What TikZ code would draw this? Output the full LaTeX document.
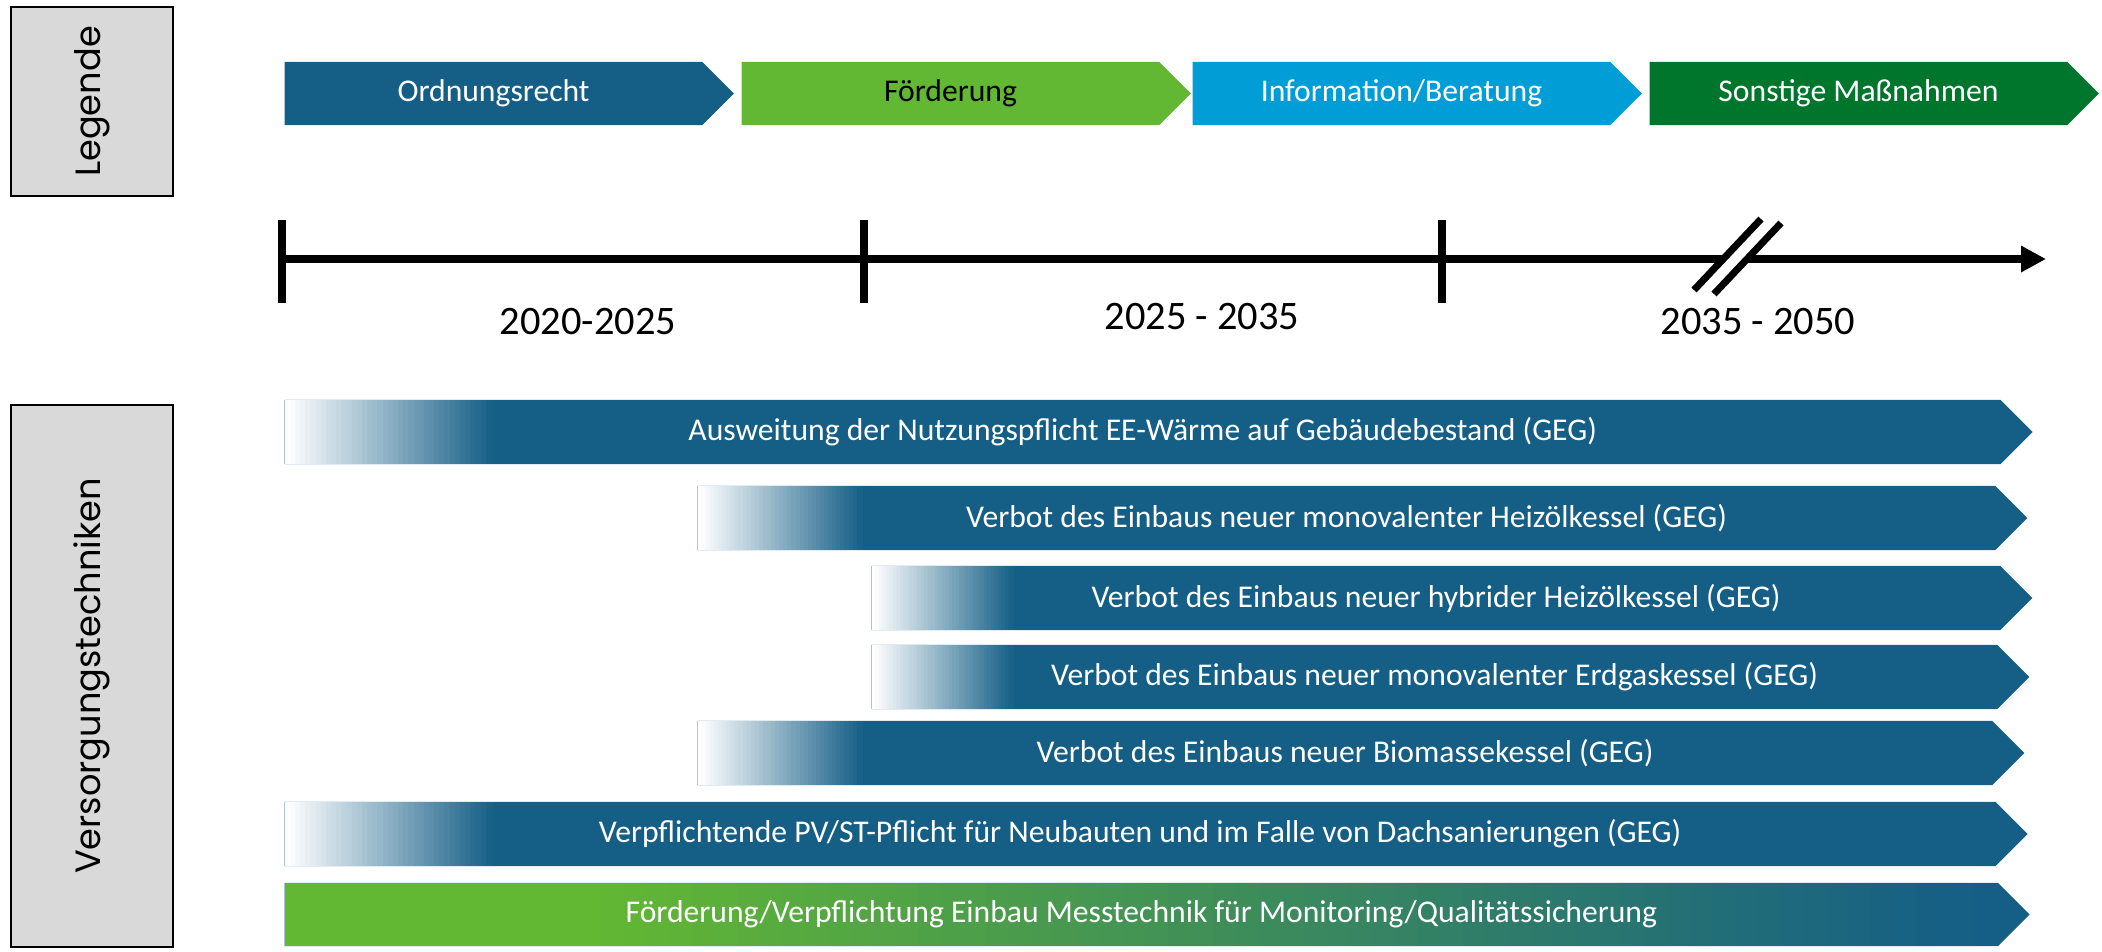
\documentclass[tikz,border=0pt]{standalone}
\usepackage{fontspec}
\setmainfont{Carlito}
\newfontfamily\sidefont{Poppins}
\usepackage{xcolor}
\definecolor{barblue}{HTML}{155E86}
\definecolor{fgreen}{HTML}{62B733}
\definecolor{infocyan}{HTML}{009DD6}
\definecolor{darkgreen}{HTML}{00762C}
\definecolor{boxgray}{HTML}{D9D9D9}
\usetikzlibrary{arrows.meta,positioning,shapes.symbols}

\begin{document}
\begin{tikzpicture}[x=0.01cm, y=-0.01cm,
    every node/.style={font=\fontsize{9}{11}\selectfont},
    legendarrow/.style={signal, signal to=east, signal pointer angle=90, inner sep=0pt, minimum width=4.49cm, minimum height=0.63cm},
    measure/.style={signal, signal to=east, signal pointer angle=90, inner sep=0pt, minimum height=0.64cm, minimum width=#1, fill=barblue, text=white},
    % white fading into the bar, drawn as thin strips (#1 = length in cm)
    fadein/.style={path picture={
        \foreach \i in {0,...,39} {
            \pgfmathsetmacro\p{\i*2.5}
            \fill [barblue!\p!white] ([xshift={\i*#1/40*1cm}]path picture bounding box.north west) rectangle ([xshift={(\i+1.5)*#1/40*1cm}]path picture bounding box.south west);
        }}},
    % green running into blue
    greenblue/.style={path picture={
        \fill [fgreen] (path picture bounding box.north west) rectangle ([xshift=3.2cm]path picture bounding box.south west);
        \foreach \i in {0,...,59} {
            \pgfmathsetmacro\p{(\i+0.5)*100/60}
            \fill [barblue!\p!fgreen] ([xshift={3.16cm+\i*13.6/60*1cm}]path picture bounding box.north west) rectangle ([xshift={3.16cm+(\i+1.5)*13.6/60*1cm}]path picture bounding box.south west);
        }}},
    sidebox/.style={draw=black, line width=0.6pt, fill=boxgray, rotate=90, minimum height=1.62cm, inner sep=0pt, font=\sidefont\fontsize{10}{12}\selectfont},
    period/.style={font=\fontsize{11.5}{13}\selectfont},
    axisline/.style={line width=2.28pt},
    breakline/.style={line width=2pt}]
    \useasboundingbox (0,0) rectangle (2102,951);

    % Side labels
    \node [sidebox, minimum width=1.89cm] (legende) at (92,101.5) {Legende};
    \node [sidebox, minimum width=5.42cm] (versorgung) at (92,676) {Versorgungstechniken};

    % Legend
    \node [legendarrow, fill=barblue, text=white, anchor=west] (ordnung) at (284,93.5) {Ordnungsrecht};
    \node [legendarrow, fill=fgreen, right=0.06cm of ordnung] (foerder) {Förderung};
    \node [legendarrow, fill=infocyan, text=white, right=0cm of foerder] (info) {Information/Beratung};
    \node [legendarrow, fill=darkgreen, text=white, right=0.06cm of info] (sonstige) {Sonstige Maßnahmen};

    % Time axis
    \coordinate (t0) at (282,259);
    \coordinate (t1) at (864,259);
    \coordinate (t2) at (1442,259);
    \coordinate (tend) at (2046,259);
    \coordinate (brk) at (1737,257);
    \draw [axisline, -{Triangle[length=0.25cm,width=0.25cm]}] (t0) -- (tend);
    \foreach \t in {t0,t1,t2}
        \draw [axisline] (\t) ++(0,-39) -- ++(0,83);
    \draw [white, line width=4.8pt] (brk) ++(-33,35) -- ++(67,-71);
    \draw [breakline] (brk) ++(-43,33) -- ++(67,-71);
    \draw [breakline] (brk) ++(-23,37) -- ++(67,-71);

    \node [period] (p1) at (588,322) {2020-2025};
    \node [period] (p2) at (1202,317) {2025 - 2035};
    \node [period] (p3) at (1758,322) {2035 - 2050};

    % Measures
    \node [measure=17.47cm, fadein=2.06, anchor=west] (nutzpflicht) at (284,432) {Ausweitung der Nutzungspflicht EE-Wärme auf Gebäudebestand (GEG)};
    \node [measure=13.29cm, fadein=1.63, anchor=west] (oelmono) at (697,518) {Verbot des Einbaus neuer monovalenter Heizölkessel (GEG)};
    \node [measure=11.60cm, fadein=1.4, anchor=west] (oelhybrid) at (871,598) {Verbot des Einbaus neuer hybrider Heizölkessel (GEG)};
    \node [measure=11.57cm, fadein=1.4, anchor=west] (gasmono) at (871,677) {Verbot des Einbaus neuer monovalenter Erdgaskessel (GEG)};
    \node [measure=13.26cm, fadein=1.63, anchor=west] (biomasse) at (697,753) {Verbot des Einbaus neuer Biomassekessel (GEG)};
    \node [measure=17.42cm, fadein=2.06, anchor=west] (pvst) at (284,834) {Verpflichtende PV/ST-Pflicht für Neubauten und im Falle von Dachsanierungen (GEG)};
    \node [measure=17.44cm, greenblue, minimum height=0.63cm, anchor=west] (messtechnik) at (284,914.5) {Förderung/Verpflichtung Einbau Messtechnik für Monitoring/Qualitätssicherung};
\end{tikzpicture}
\end{document}
